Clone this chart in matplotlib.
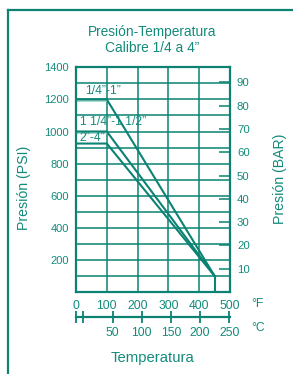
import matplotlib
matplotlib.use("Agg")
import matplotlib.pyplot as plt
from matplotlib.lines import Line2D

plt.rcParams['font.family'] = ['Liberation Sans', 'DejaVu Sans']

# ---- data ----
temp_f = [0, 100, 450]
sizes = ['1/4”-1”', '1 1/4”-1 1/2”', '2”-4”']
psi_small = [1200, 1200, 100]
psi_mid = [1000, 1000, 100]
psi_large = [925, 925, 100]
end_temp_f = [450, 450]
end_psi = [100, 0]
label_pos_f = [28, 13, 11]
label_pos_psi = [1252, 1058, 960]

psi_ticks = [200, 400, 600, 800, 1000, 1200, 1400]
psi_grid = list(range(0, 1500, 100))
f_ticks = [0, 100, 200, 300, 400, 500]
bar_ticks = [10, 20, 30, 40, 50, 60, 70, 80, 90]
c_ticks = [0, 50, 100, 150, 200, 250]
c_labels = ['', '50', '100', '150', '200', '250']
PSI_PER_BAR = 14.5038
C_OFFSET_F, C_SLOPE = 23.7, 1.897   # °C scale as drawn on the chart

TEAL = '#0c8273'
TXT = '#138b7b'
LIGHT = '#a9d9d0'

fig = plt.figure(figsize=(2.93, 3.74), dpi=100)
W, H = 293, 374
ax = fig.add_axes([76 / W, 1 - 292 / H, (230 - 76) / W, (292 - 67.3) / H])
ax.set_xlim(0, 500)
ax.set_ylim(0, 1400)

# grid
for g in psi_grid:
    ax.axhline(g, color=TEAL, lw=1.1, zorder=1)
for g in f_ticks:
    ax.axvline(g, color=TEAL, lw=1.1, zorder=1)

# curves
for ys in (psi_small, psi_mid, psi_large):
    ax.plot(temp_f, ys, color=TEAL, lw=1.5, zorder=3, solid_capstyle='butt')
for ys in (psi_small, psi_mid):
    ax.plot(temp_f[:2], [ys[0] - 6, ys[1] - 6], color=LIGHT, lw=2.2, zorder=2, solid_capstyle='butt')
ax.plot(end_temp_f, end_psi, color=TEAL, lw=1.5, zorder=3)

for s, xf, yp in zip(sizes, label_pos_f, label_pos_psi):
    ax.text(xf, yp, s, color=TXT, fontsize=8.7, va='center', ha='left', zorder=4)

for sp in ax.spines.values():
    sp.set_color(TEAL)
    sp.set_linewidth(1.6)

ax.set_yticks(psi_ticks)
ax.set_yticklabels([str(v) for v in psi_ticks])
ax.tick_params(axis='y', length=0, pad=5, labelsize=8, labelcolor=TXT)
ax.set_xticks(f_ticks)
ax.set_xticklabels([str(v) for v in f_ticks])
ax.tick_params(axis='x', length=0, pad=6, labelsize=8.7, labelcolor=TXT)

# BAR axis
ax2 = ax.twinx()
ax2.set_ylim(0, 1400 / PSI_PER_BAR)
ax2.set_yticks(bar_ticks)
ax2.tick_params(axis='y', direction='in', length=8, width=1.1, color=TEAL,
                pad=5, labelsize=8.2, labelcolor=TXT)
for sp in ax2.spines.values():
    sp.set_visible(False)

# °C axis
def c2f(c):
    return C_OFFSET_F + C_SLOPE * c

def f2c(f):
    return (f - C_OFFSET_F) / C_SLOPE

sec = ax.secondary_xaxis(-(317 - 292) / (292 - 67.3), functions=(f2c, c2f))
sec.set_xticks([f2c(0)] + c_ticks)
sec.set_xticklabels([''] + c_labels)
sec.tick_params(axis='x', direction='inout', length=8, width=1.3, color=TEAL,
                pad=3, labelsize=8.7, labelcolor=TXT)
sec.spines['bottom'].set_color(TEAL)
sec.spines['bottom'].set_linewidth(1.6)

# units and labels
fig.text(251 / W, 1 - 304 / H, '°F', color=TXT, fontsize=8.7, va='center', ha='left')
fig.text(251 / W, 1 - 328 / H, '°C', color=TXT, fontsize=8.7, va='center', ha='left')
fig.text(152.5 / W, 1 - 32 / H, 'Presión-Temperatura', color=TXT, fontsize=9.9, ha='center', va='center')
fig.text(152.5 / W, 1 - 48.5 / H, 'Calibre 1/4 a 4”', color=TXT, fontsize=9.9, ha='center', va='center')
fig.text(24 / W, 1 - 188 / H, 'Presión (PSI)', color=TXT, fontsize=10.2, rotation=90, ha='center', va='center')
fig.text(280 / W, 1 - 179 / H, 'Presión (BAR)', color=TXT, fontsize=10.2, rotation=90, ha='center', va='center')
fig.text(152.5 / W, 1 - 358 / H, 'Temperatura', color=TXT, fontsize=10.7, ha='center', va='center')

# outer frame
fig.add_artist(Line2D([7.5 / W, 7.5 / W], [0, 1 - 10 / H], transform=fig.transFigure, color=TEAL, lw=1.6))
fig.add_artist(Line2D([7.5 / W, 1], [1 - 10 / H, 1 - 10 / H], transform=fig.transFigure, color=TEAL, lw=1.6))

fig.savefig('out.png', dpi=100)
